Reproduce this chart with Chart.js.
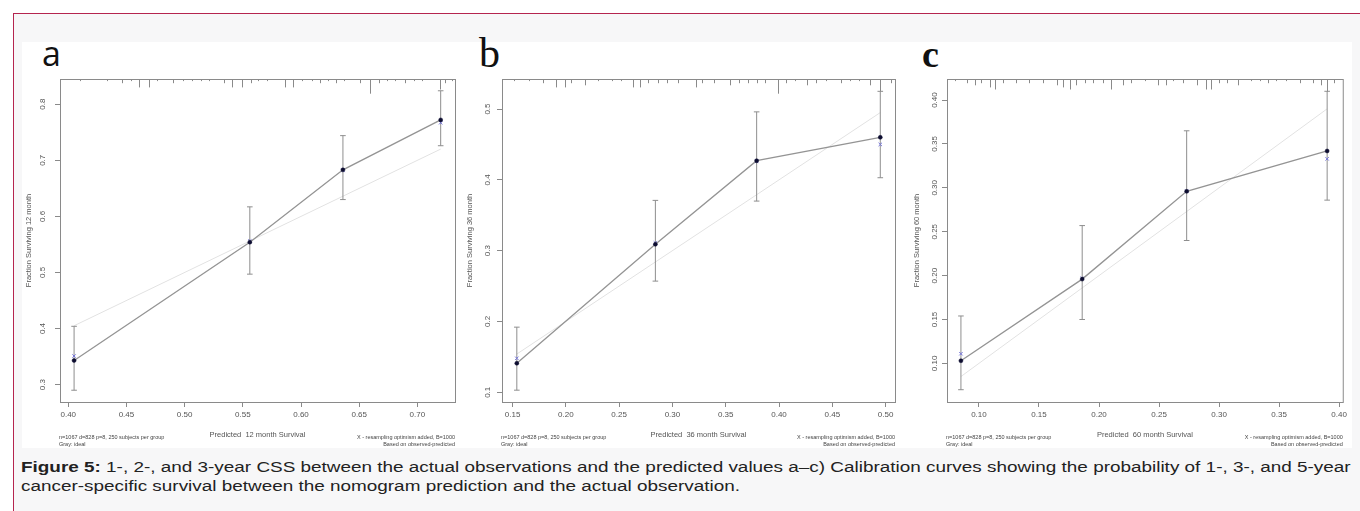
<!DOCTYPE html>
<html>
<head>
<meta charset="utf-8">
<script src="https://cdn.jsdelivr.net/npm/chart.js@4.4.0/dist/chart.umd.min.js"></script>
<style>
  body { margin: 0; width: 1360px; height: 511px; overflow: hidden; position: relative; background: #fff; font-family: "Liberation Sans", Arial, sans-serif; }
  #frame { position: absolute; left: 13px; top: 13px; width: 1400px; height: 560px; border-left: 1.5px solid #b5254f; border-top: 1.5px solid #b5254f; background: #f7f7f8; }
  #plots { position: absolute; left: 22px; top: 42px; width: 1330px; height: 406px; background: #fff; }
  canvas { position: absolute; top: 42px; }
  .tag { position: absolute; line-height: 1; color: #111; }
  #caption { position: absolute; left: 21px; top: 458px; font-size: 15.5px; line-height: 18.5px; color: #222; white-space: nowrap; transform: scaleX(1.22); transform-origin: 0 0; }
</style>
</head>
<body>
<div id="frame"></div>
<div id="plots"></div>
<div class="tag" style="left:42px;top:36px;font-size:34px;font-family:'Open Sans','DejaVu Sans',sans-serif;">a</div>
<div class="tag" style="left:479px;top:32px;font-size:42px;font-family:'Liberation Serif','Times New Roman',serif;">b</div>
<div class="tag" style="left:922px;top:35px;font-size:38px;font-weight:bold;font-family:'Liberation Serif','Times New Roman',serif;">c</div>
<canvas id="chartA" width="438" height="406" style="left:22px"></canvas>
<canvas id="chartB" width="438" height="406" style="left:462px"></canvas>
<canvas id="chartC" width="445" height="406" style="left:905px"></canvas>
<div id="caption"><b>Figure 5:</b> 1-, 2-, and 3-year CSS between the actual observations and the predicted values a–c) Calibration curves showing the probability of 1-, 3-, and 5-year<br>cancer-specific survival between the nomogram prediction and the actual observation.</div>

<script>
// ---- 12 month (a)
const predA = [0.405, 0.556, 0.636, 0.720];
const obsA = [0.343, 0.554, 0.683, 0.772];
const lowA = [0.290, 0.497, 0.630, 0.726];
const highA = [0.404, 0.617, 0.744, 0.824];
const corrA = [0.351, 0.556, 0.682, 0.767];
const xTicksA = [0.40, 0.45, 0.50, 0.55, 0.60, 0.65, 0.70];
const yTicksA = [0.3, 0.4, 0.5, 0.6, 0.7, 0.8];
const rugXA = [0.410, 0.433, 0.446, 0.454, 0.461, 0.469, 0.476, 0.490, 0.499, 0.506, 0.514, 0.521, 0.534, 0.541, 0.549, 0.557, 0.563, 0.571, 0.586, 0.593, 0.601, 0.609, 0.616, 0.623, 0.630, 0.637, 0.651, 0.659, 0.667, 0.674, 0.681, 0.689, 0.697, 0.704, 0.719, 0.724, 0.730];
const rugNA = [1, 1, 2, 1, 4, 4, 1, 2, 1, 1, 1, 1, 2, 4, 4, 2, 1, 1, 4, 4, 1, 1, 2, 1, 2, 1, 2, 7, 2, 1, 1, 2, 1, 1, 5, 2, 1];

// ---- 36 month (b)
const predB = [0.154, 0.284, 0.379, 0.495];
const obsB = [0.141, 0.309, 0.427, 0.460];
const lowB = [0.103, 0.257, 0.370, 0.403];
const highB = [0.192, 0.371, 0.496, 0.525];
const corrB = [0.148, 0.311, 0.426, 0.450];
const xTicksB = [0.15, 0.20, 0.25, 0.30, 0.35, 0.40, 0.45, 0.50];
const yTicksB = [0.1, 0.2, 0.3, 0.4, 0.5];
const rugXB = [0.151, 0.165, 0.179, 0.191, 0.199, 0.205, 0.218, 0.230, 0.243, 0.252, 0.263, 0.270, 0.277, 0.286, 0.295, 0.305, 0.322, 0.328, 0.339, 0.354, 0.362, 0.371, 0.379, 0.387, 0.399, 0.407, 0.415, 0.426, 0.435, 0.444, 0.458, 0.467, 0.475, 0.485, 0.495, 0.505];
const rugNB = [1, 1, 2, 4, 4, 2, 3, 1, 1, 1, 4, 4, 2, 2, 2, 2, 4, 2, 2, 3, 2, 2, 2, 2, 7, 2, 1, 3, 2, 1, 2, 1, 1, 3, 6, 2];

// ---- 60 month (c)
const predC = [0.085, 0.186, 0.273, 0.390];
const obsC = [0.103, 0.196, 0.296, 0.342];
const lowC = [0.070, 0.150, 0.240, 0.286];
const highC = [0.154, 0.257, 0.365, 0.410];
const corrC = [0.111, 0.197, 0.296, 0.333];
const xTicksC = [0.10, 0.15, 0.20, 0.25, 0.30, 0.35, 0.40];
const yTicksC = [0.10, 0.15, 0.20, 0.25, 0.30, 0.35, 0.40];
const rugXC = [0.080, 0.090, 0.097, 0.102, 0.109, 0.113, 0.120, 0.131, 0.142, 0.153, 0.165, 0.170, 0.176, 0.181, 0.188, 0.195, 0.203, 0.210, 0.220, 0.227, 0.238, 0.249, 0.256, 0.262, 0.270, 0.282, 0.289, 0.293, 0.300, 0.307, 0.316, 0.327, 0.334, 0.341, 0.347, 0.356, 0.367, 0.378, 0.385, 0.390, 0.396];
const rugNC = [1, 2, 3, 2, 4, 5, 2, 2, 2, 2, 3, 4, 5, 3, 2, 2, 2, 5, 3, 2, 1, 3, 3, 1, 2, 3, 5, 5, 2, 2, 3, 1, 1, 2, 1, 1, 2, 2, 3, 6, 2];

const subLeft = ['n=1067 d=828 p=8, 250 subjects per group', 'Gray: ideal'];
const subRight = ['X - resampling optimism added, B=1000', 'Based on observed-predicted'];

const FONT = '"Liberation Sans", Arial, sans-serif';
const AXIS = '#8a8a8a';

// box, rug along the top, rotated y labels and the small subtitles (R calibrate style)
const calPlot = {
  id: 'calPlot',
  beforeDatasetsDraw(chart, args, opts) {
    const { ctx, chartArea: a } = chart;
    const xs = chart.scales.x;
    ctx.save();
    ctx.strokeStyle = AXIS;
    ctx.lineWidth = 1;
    ctx.strokeRect(a.left + 0.5, a.top + 0.5, a.right - a.left, a.bottom - a.top);
    opts.rugX.forEach((v, i) => {
      const px = Math.round(xs.getPixelForValue(v)) + 0.5;
      ctx.beginPath();
      ctx.moveTo(px, a.top);
      ctx.lineTo(px, a.top + opts.rugN[i] * 2.1);
      ctx.stroke();
    });
    ctx.restore();
  },
  afterDraw(chart, args, opts) {
    const { ctx, chartArea: a } = chart;
    const ys = chart.scales.y;
    ctx.save();
    ctx.fillStyle = '#555';
    ctx.font = '8px ' + FONT;
    ctx.textAlign = 'center';
    ctx.textBaseline = 'middle';
    ys.ticks.forEach(t => {
      ctx.save();
      ctx.translate(a.left - opts.labelGap, ys.getPixelForValue(t.value));
      ctx.rotate(-Math.PI / 2);
      ctx.fillText(t.value.toFixed(opts.yDigits), 0, 0);
      ctx.restore();
    });
    ctx.font = '5.5px ' + FONT;
    ctx.fillStyle = '#444';
    const h = chart.height;
    ctx.textAlign = 'left';
    ctx.fillText(subLeft[0], a.left - 1, h - 10.5);
    ctx.fillText(subLeft[1], a.left - 1, h - 4);
    ctx.textAlign = 'right';
    ctx.fillText(subRight[0], a.right, h - 10.5);
    ctx.fillText(subRight[1], a.right, h - 4);
    ctx.restore();
  }
};

function pts(xv, yv) {
  return xv.map((x, i) => ({ x, y: yv[i] }));
}

function calChart(id, p) {
  const datasets = [
    { data: pts(p.pred, p.obs), showLine: true, borderColor: '#949494', borderWidth: 1.3,
      pointRadius: 2, pointBackgroundColor: '#0d0d30', pointBorderColor: '#0d0d30', pointBorderWidth: 0.5 },
    { data: pts(p.pred, p.corr), showLine: false, pointStyle: 'crossRot', pointRadius: 2.4,
      pointBorderColor: '#7474d8', pointBorderWidth: 1 }
  ];
  p.pred.forEach((x, i) => {
    datasets.push({ data: [{ x, y: p.low[i] }, { x, y: p.high[i] }], showLine: true,
      borderColor: '#8e8e8e', borderWidth: 1, pointStyle: 'line', pointRadius: 2.8,
      pointBorderColor: '#8e8e8e', pointBorderWidth: 1 });
  });
  const last = p.pred.length - 1;
  datasets.push({ data: [{ x: p.pred[0], y: p.pred[0] }, { x: p.pred[last], y: p.pred[last] }],
    showLine: true, borderColor: '#e2e2e2', borderWidth: 1, pointRadius: 0 });

  return new Chart(document.getElementById(id), {
    type: 'scatter',
    data: { datasets },
    options: {
      responsive: false,
      animation: false,
      devicePixelRatio: 1,
      events: [],
      layout: { padding: { top: 37, right: p.padRight, left: 0, bottom: 0 } },
      plugins: {
        legend: { display: false },
        tooltip: { enabled: false },
        calPlot: { rugX: p.rugX, rugN: p.rugN, labelGap: p.labelGap, yDigits: p.yDigits }
      },
      scales: {
        x: {
          type: 'linear', min: p.xMin, max: p.xMax,
          afterBuildTicks: s => { s.ticks = p.xTicks.map(v => ({ value: v })); },
          afterFit: s => { s.height = 46; },
          grid: { drawOnChartArea: false, drawTicks: true, tickLength: 5, color: AXIS },
          border: { color: AXIS },
          ticks: { font: { size: 8, family: FONT }, color: '#555', padding: 3, maxRotation: 0, autoSkip: false,
                   callback: v => Number(v).toFixed(2) },
          title: { display: true, text: p.xTitle, font: { size: 7.5, family: FONT }, color: '#555',
                   padding: { top: 0, bottom: 8.5 } }
        },
        y: {
          type: 'linear', min: p.yMin, max: p.yMax,
          afterBuildTicks: s => { s.ticks = p.yTicks.map(v => ({ value: v })); },
          afterFit: s => { s.width = p.yWidth; },
          grid: { drawOnChartArea: false, drawTicks: true, tickLength: 5, color: AXIS },
          border: { color: AXIS },
          ticks: { display: false },
          title: { display: true, text: p.yTitle, font: { size: 7.5, family: FONT }, color: '#555',
                   padding: { top: p.yTitlePad, bottom: 0 } }
        }
      }
    },
    plugins: [calPlot]
  });
}

calChart('chartA', {
  pred: predA, obs: obsA, low: lowA, high: highA, corr: corrA, rugX: rugXA, rugN: rugNA,
  xTicks: xTicksA, yTicks: yTicksA, xMin: 0.3929, xMax: 0.7323, yMin: 0.269, yMax: 0.845,
  xTitle: 'Predicted  12 month Survival', yTitle: 'Fraction Surviving 12 month',
  yWidth: 38, padRight: 4, yTitlePad: 2.5, labelGap: 17, yDigits: 1
});
calChart('chartB', {
  pred: predB, obs: obsB, low: lowB, high: highB, corr: corrB, rugX: rugXB, rugN: rugNB,
  xTicks: xTicksB, yTicks: yTicksB, xMin: 0.1401, xMax: 0.5088, yMin: 0.0863, yMax: 0.5424,
  xTitle: 'Predicted  36 month Survival', yTitle: 'Fraction Surviving 36 month',
  yWidth: 40, padRight: 2, yTitlePad: 3.5, labelGap: 14, yDigits: 1
});
calChart('chartC', {
  pred: predC, obs: obsC, low: lowC, high: highC, corr: corrC, rugX: rugXC, rugN: rugNC,
  xTicks: xTicksC, yTicks: yTicksC, xMin: 0.0734, xMax: 0.403, yMin: 0.056, yMax: 0.424,
  xTitle: 'Predicted  60 month Survival', yTitle: 'Fraction Surviving 60 month',
  yWidth: 42, padRight: 7, yTitlePad: 7, labelGap: 12, yDigits: 2
});
</script>
</body>
</html>
